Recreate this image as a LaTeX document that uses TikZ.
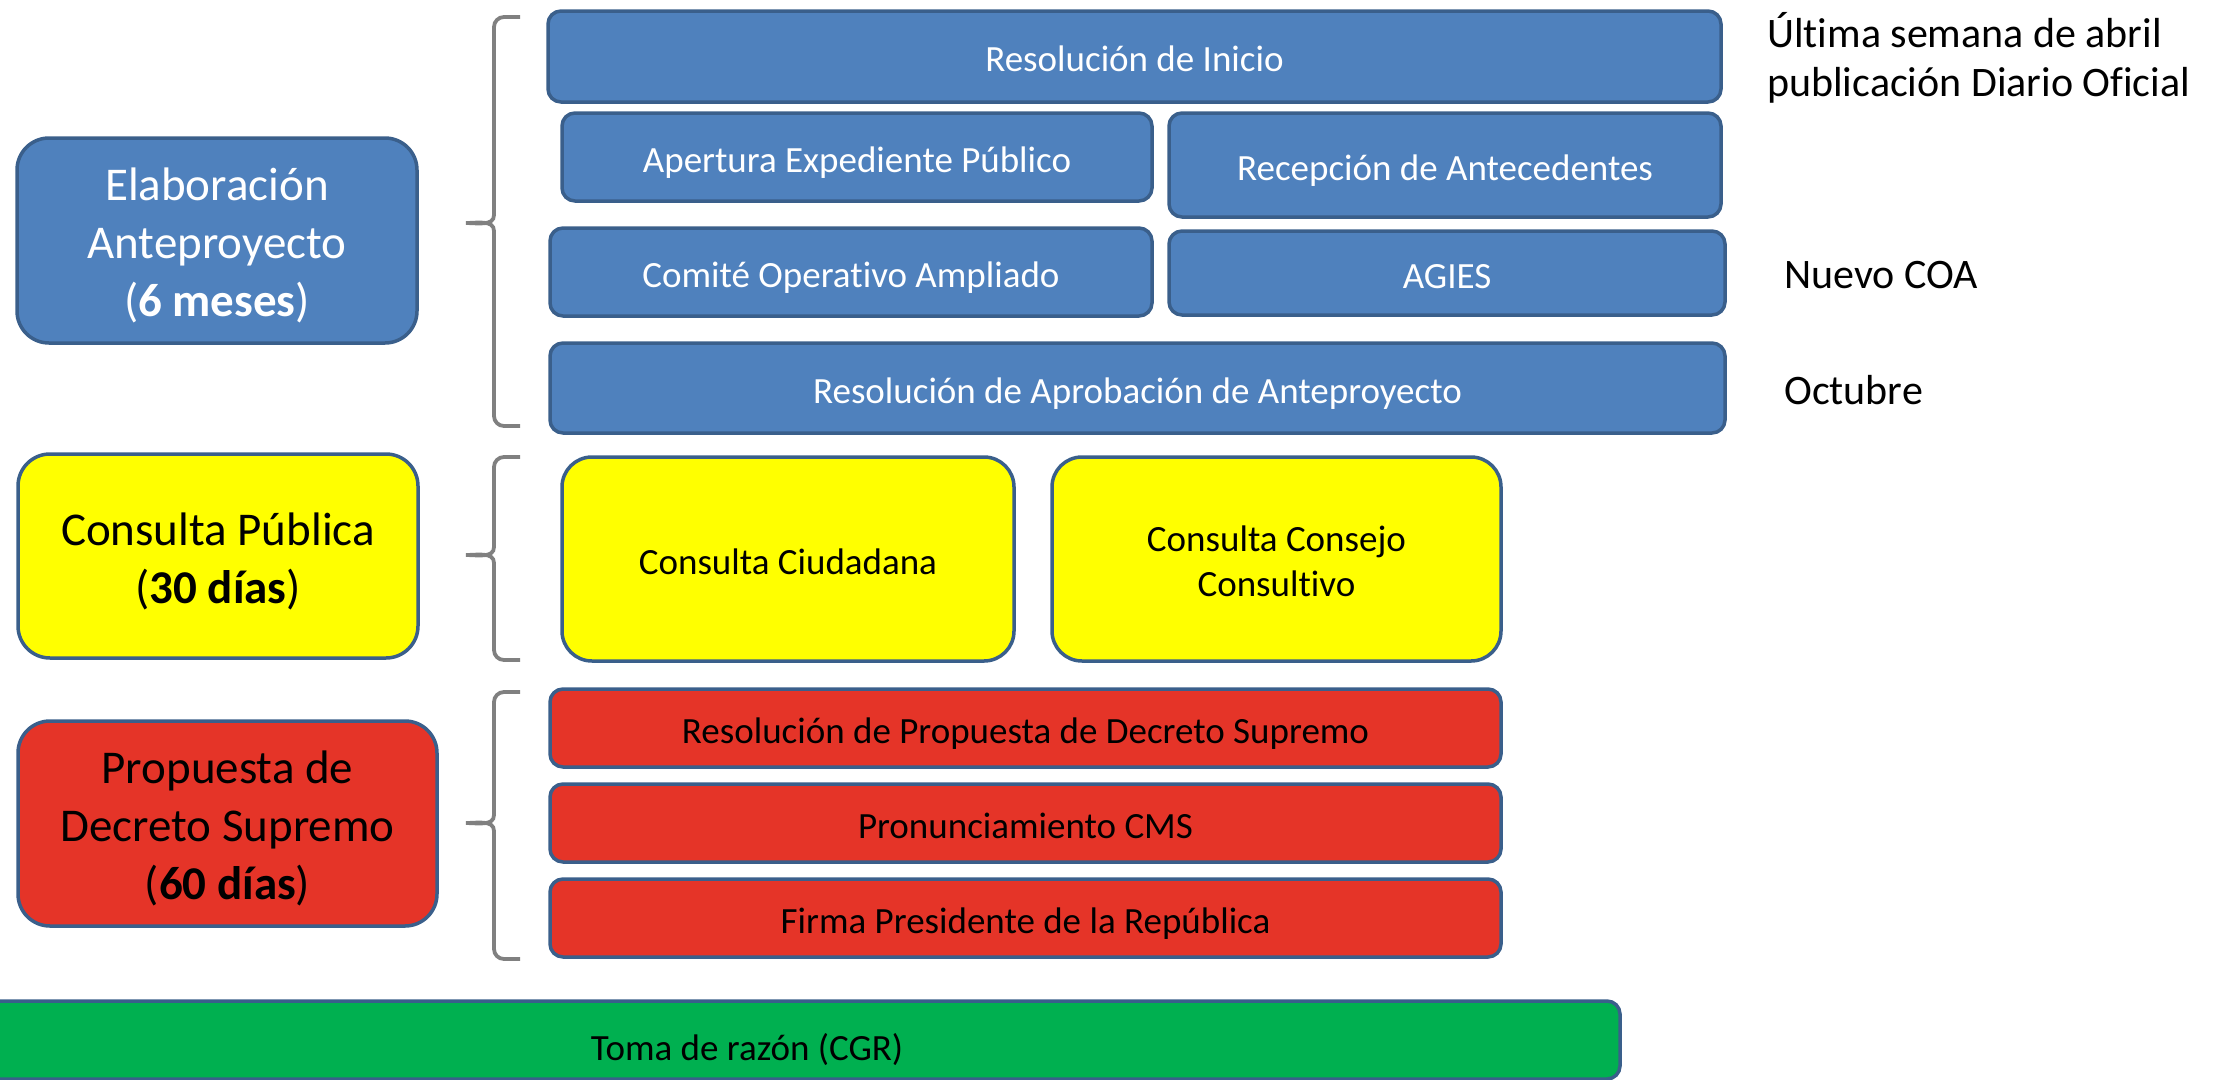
\documentclass[tikz,border=0pt]{standalone}
\usepackage{fontspec}
\setmainfont{Carlito}[RawFeature={-liga}]
\definecolor{bfill}{HTML}{4F81BD}
\definecolor{bline}{HTML}{3A5F8B}
\definecolor{yfill}{HTML}{FFFF00}
\definecolor{rfill}{HTML}{E53428}
\definecolor{gfill}{HTML}{00B050}
\definecolor{brc}{HTML}{808080}
\newcommand{\dnrule}[1]{\rule{0pt}{#1}}
\tikzset{
  bx/.style={draw=bline, line width=3.5pt, rounded corners=13pt, inner sep=0pt, align=center,
    font=\fontsize{37}{45}\selectfont},
  one/.style={text height=30pt, text depth=0pt},
  big/.style={bx, rounded corners=32pt, font=\fontsize{47}{58}\selectfont},
  blue/.style={fill=bfill, text=white},
  yel/.style={fill=yfill, text=black},
  red/.style={fill=rfill, text=black},
  grn/.style={fill=gfill, text=black},
  note/.style={anchor=west, inner sep=0pt, align=left, font=\fontsize{42}{49}\selectfont},
  brace/.style={draw=brc, line width=3.8pt}
}
\newcommand{\bracepath}[4]{% x of line, top, tip y, bottom
  \draw[brace] (#1+26,#2) -- (#1+10,#2) to[out=180,in=90] (#1,#2+10) -- (#1,#3-8)
    to[out=-90,in=0] (#1-28,#3) to[out=0,in=90] (#1,#3+8) -- (#1,#4-10)
    to[out=-90,in=180] (#1+10,#4) -- (#1+26,#4);}
\begin{document}
\begin{tikzpicture}[x=1pt,y=-1pt]
\useasboundingbox (0,0) rectangle (2224,1079);
\clip (0,0) rectangle (2224,1079);
% left phase boxes
\node[big,blue,minimum width=400pt,minimum height=205pt] (elab) at (217,240.5)
  {\dnrule{43pt}Elaboración\\Anteproyecto\\(\textbf{6 meses})};
\node[big,yel,minimum width=400pt,minimum height=204pt] (cp) at (218,556)
  {\dnrule{43pt}Consulta Pública\\(\textbf{30 días})};
\node[big,red,minimum width=419pt,minimum height=205pt] (prop) at (227.5,823.5)
  {\dnrule{42pt}Propuesta de\\Decreto Supremo\\(\textbf{60 días})};
% braces
\bracepath{494}{17}{223}{426}
\bracepath{494}{457}{555}{660}
\bracepath{494}{692}{823}{959}
% blue steps
\node[bx,one,blue,minimum width=1173pt,minimum height=91pt] (ri) at (1134.5,56.5) {Resolución de Inicio};
\node[bx,one,blue,minimum width=590pt,minimum height=88pt] (ap) at (857,157) {Apertura Expediente Público};
\node[bx,one,blue,minimum width=552pt,minimum height=104pt] (rec) at (1445,165) {Recepción de Antecedentes};
\node[bx,one,blue,minimum width=602pt,minimum height=88pt] (com) at (851,272) {Comité Operativo Ampliado};
\node[bx,one,blue,minimum width=556pt,minimum height=84pt] (agies) at (1447,273) {AGIES};
\node[bx,one,blue,minimum width=1175pt,minimum height=90pt] (ra) at (1137.5,388) {Resolución de Aprobación de Anteproyecto};
% yellow steps
\node[bx,one,yel,rounded corners=30pt,minimum width=452pt,minimum height=204pt] (cc) at (788,559) {Consulta Ciudadana};
\node[bx,yel,rounded corners=30pt,minimum width=449pt,minimum height=204pt] (ccc) at (1276.5,559) {\dnrule{31pt}Consulta Consejo\\Consultivo};
% red steps
\node[bx,one,red,minimum width=951pt,minimum height=78pt] (rp) at (1025.5,728) {Resolución de Propuesta de Decreto Supremo};
\node[bx,one,red,minimum width=951pt,minimum height=78pt] (pc) at (1025.5,823) {Pronunciamiento CMS};
\node[bx,one,red,minimum width=951pt,minimum height=78pt] (fp) at (1025.5,918) {Firma Presidente de la República};
% green
\node[bx,grn,text height=41pt,text depth=0pt,minimum width=1746pt,minimum height=78pt] (toma) at (747,1040) {Toma de razón (CGR)};
% notes
\node[note] (n1) at (1767,58) {Última semana de abril\\publicación Diario Oficial};
\node[note] (n2) at (1784,275) {Nuevo COA};
\node[note] (n3) at (1784,390) {Octubre};
\end{tikzpicture}
\end{document}
